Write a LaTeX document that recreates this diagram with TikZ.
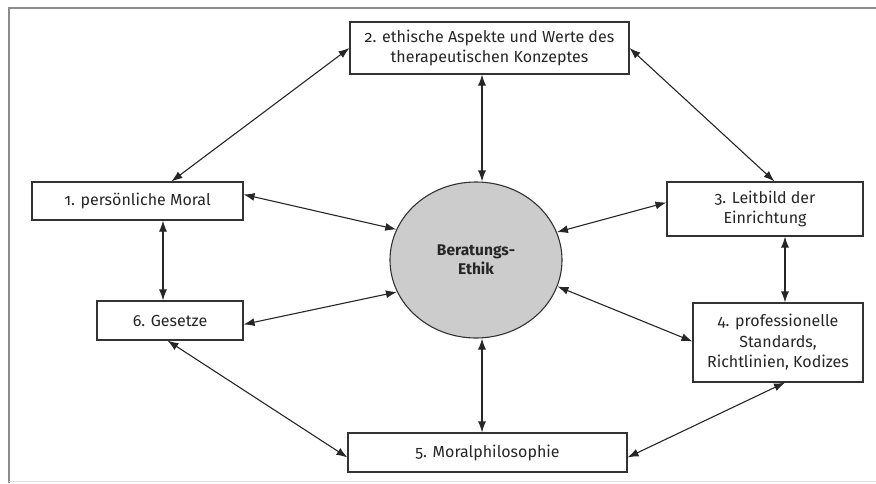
\documentclass[tikz,border=0pt]{standalone}
\usepackage{fontspec}
\setmainfont{Fira Sans}[Numbers=OldStyle]
\usetikzlibrary{arrows.meta,calc,shapes.geometric}
\begin{document}
\begin{tikzpicture}[x=1pt,y=-1pt,
  box/.style={draw=black!80,line width=1.1pt,fill=white,rectangle,inner sep=0pt,align=center,
    font=\fontsize{16}{20.5}\selectfont,text=black!85},
  conn/.style={draw=black!85,line width=1.1pt,{Latex[length=11pt,width=8pt]}-{Latex[length=11pt,width=8pt]}}]
\useasboundingbox (0,0) rectangle (876,483);
\draw[black!45,line width=1.5pt] (9,483) -- (9,8) -- (876,8);
\draw[black!12,line width=1pt] (9,481) -- (876,481);
\node[box,minimum width=279pt,minimum height=52pt] (b2) at (489.5,48) {2. ethische Aspekte und Werte des\\therapeutischen Konzeptes};
\node[box,minimum width=211pt,minimum height=38pt] (b1) at (137.5,201) {1. persönliche Moral};
\node[box,minimum width=196pt,minimum height=54pt] (b3) at (765,209) {3. Leitbild der\\Einrichtung};
\node[box,minimum width=170pt,minimum height=79pt] (b4) at (778,342.5) {4. professionelle\\Standards,\\Richtlinien, Kodizes};
\node[box,minimum width=279pt,minimum height=39pt] (b5) at (487.5,452.5) {5. Moralphilosophie};
\node[box,minimum width=146pt,minimum height=39pt] (b6) at (170,320.5) {6. Gesetze};
\node[ellipse,draw=black!80,line width=1.1pt,fill=black!20,minimum width=172pt,minimum height=156pt,inner sep=0pt,
  align=center,font=\bfseries\fontsize{15.5}{19}\selectfont,text=black!85] (e) at (476,260) {Beratungs-\\Ethik};
\coordinate (vx) at (482,0);
\coordinate (lx) at (163,0);
\coordinate (rx) at (785,0);
\draw[conn] (b2.west) -- ($(b1.north west)+(140,0)$);
\draw[conn] (b2.east) -- ($(b3.north west)+(108,0)$);
\draw[conn] (b2.south -| vx) -- (e.north -| vx);
\draw[conn] ($(b1.north east)+(0,13)$) -- (e.159);
\draw[conn] ($(b3.north west)+(0,21)$) -- (e.19);
\draw[conn] ($(b6.north east)+(0,24)$) -- (e.202);
\draw[conn] ($(b4.north west)+(0,39)$) -- (e.342);
\draw[conn] (b1.south -| lx) -- (b6.north -| lx);
\draw[conn] (b3.south -| rx) -- (b4.north -| rx);
\draw[conn] (e.south -| vx) -- (b5.north -| vx);
\draw[conn] ($(b6.south west)+(71,0)$) -- ($(b5.north west)+(0,25)$);
\draw[conn] (b4.south -| rx) -- ($(b5.north east)+(0,25)$);
\end{tikzpicture}
\end{document}
